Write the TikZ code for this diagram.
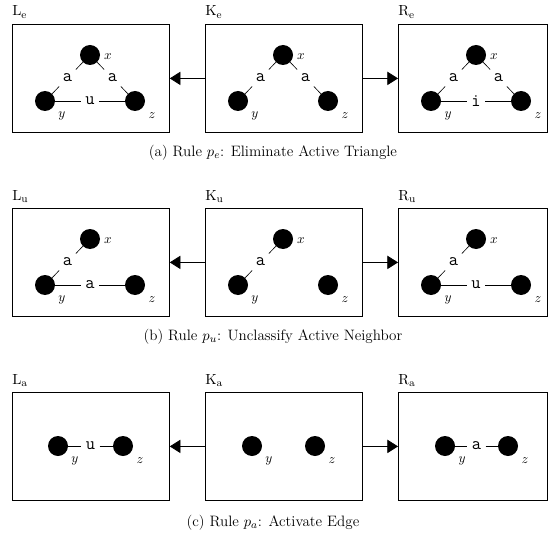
\documentclass[tikz,border=0pt]{standalone}
\usetikzlibrary{arrows.meta,calc}
\newcommand\vtxx[4]{%
  \node[vtx] (#1) at (#2,#3) {};
  \node[vname] (#1lab) at (#2+18,#3+2) {$#4$};}
\newcommand\vtxb[4]{%
  \node[vtx] (#1) at (#2,#3) {};
  \node[vname] (#1lab) at (#2+17,#3+15) {$#4$};}
\newcommand\edgelab[4]{%
  \node[elabel] (#1) at ($(#2)!0.5!(#3)$) {#4};
  \draw[edge] (#2) -- (#1) -- (#3);}
\newcommand\mkbox[4]{%
  \node[gbox] (#1) at (#2,#3) {};
  \node[boxname] (#1name) at ($(#1.north west)+(0,-8)$) {#4};}
\begin{document}
\begin{tikzpicture}[x=0.75pt,y=-0.75pt,
  gbox/.style={draw, line width=0.6pt, minimum width=117.75pt, minimum height=81pt, inner sep=0pt, anchor=north west},
  rbox/.style={gbox, minimum width=111.75pt},
  vtx/.style={circle, fill=black, minimum size=15pt, inner sep=0pt},
  vname/.style={font=\fontsize{10}{12}\selectfont, inner sep=0pt},
  elabel/.style={font=\fontsize{13.5}{16}\selectfont\ttfamily, inner sep=3.2pt},
  edge/.style={line width=0.5pt},
  boxname/.style={font=\fontsize{11.3}{13.5}\selectfont, anchor=base west, inner sep=0pt},
  rarrow/.style={line width=0.6pt, -{Triangle[length=8pt,width=10pt]}},
  capt/.style={font=\fontsize{11.3}{13.5}\selectfont, inner sep=0pt}]
\useasboundingbox (0,0) rectangle (548,552);

% ---------- row a ----------
\mkbox{Le}{12}{24}{$\mathrm{L_e}$}
\mkbox{Ke}{205}{24}{$\mathrm{K_e}$}
\node[rbox] (Re) at (398,24) {};
\node[boxname] (Rename) at ($(Re.north west)+(0,-8)$) {$\mathrm{R_e}$};
\vtxx{Lex}{90}{55}{x}
\vtxb{Ley}{45}{101}{y}
\vtxb{Lez}{135}{101}{z}
\edgelab{Lea1}{Ley}{Lex}{a}
\edgelab{Lea2}{Lez}{Lex}{a}
\edgelab{Leu}{Ley}{Lez}{u}
\vtxx{Kex}{283}{55}{x}
\vtxb{Key}{238}{101}{y}
\vtxb{Kez}{328}{101}{z}
\edgelab{Kea1}{Key}{Kex}{a}
\edgelab{Kea2}{Kez}{Kex}{a}
\vtxx{Rex}{476}{55}{x}
\vtxb{Rey}{431}{101}{y}
\vtxb{Rez}{521}{101}{z}
\edgelab{Rea1}{Rey}{Rex}{a}
\edgelab{Rea2}{Rez}{Rex}{a}
\edgelab{Rei}{Rey}{Rez}{i}
\draw[rarrow] (Ke.west) -- (Le.east);
\draw[rarrow] (Ke.east) -- (Re.west);
\node[capt] (capa) at (273,153) {(a) Rule $p_e$: Eliminate Active Triangle};

% ---------- row b ----------
\mkbox{Lu}{12}{208}{$\mathrm{L_u}$}
\mkbox{Ku}{205}{208}{$\mathrm{K_u}$}
\node[rbox] (Ru) at (398,208) {};
\node[boxname] (Runame) at ($(Ru.north west)+(0,-8)$) {$\mathrm{R_u}$};
\vtxx{Lux}{90}{239}{x}
\vtxb{Luy}{45}{285}{y}
\vtxb{Luz}{135}{285}{z}
\edgelab{Lua1}{Luy}{Lux}{a}
\edgelab{Lua2}{Luy}{Luz}{a}
\vtxx{Kux}{283}{239}{x}
\vtxb{Kuy}{238}{285}{y}
\vtxb{Kuz}{328}{285}{z}
\edgelab{Kua1}{Kuy}{Kux}{a}
\vtxx{Rux}{476}{239}{x}
\vtxb{Ruy}{431}{285}{y}
\vtxb{Ruz}{521}{285}{z}
\edgelab{Rua1}{Ruy}{Rux}{a}
\edgelab{Ruu}{Ruy}{Ruz}{u}
\draw[rarrow] (Ku.west) -- (Lu.east);
\draw[rarrow] (Ku.east) -- (Ru.west);
\node[capt] (capb) at (273,337) {(b) Rule $p_u$: Unclassify Active Neighbor};

% ---------- row c ----------
\mkbox{La}{12}{392}{$\mathrm{L_a}$}
\mkbox{Ka}{205}{392}{$\mathrm{K_a}$}
\node[rbox] (Ra) at (398,392) {};
\node[boxname] (Raname) at ($(Ra.north west)+(0,-8)$) {$\mathrm{R_a}$};
\vtxb{Lay}{58}{446}{y}
\vtxb{Laz}{123}{446}{z}
\edgelab{Lau}{Lay}{Laz}{u}
\vtxb{Kay}{252}{446}{y}
\vtxb{Kaz}{315}{446}{z}
\vtxb{Ray}{445}{446}{y}
\vtxb{Raz}{508}{446}{z}
\edgelab{Raa}{Ray}{Raz}{a}
\draw[rarrow] (Ka.west) -- (La.east);
\draw[rarrow] (Ka.east) -- (Ra.west);
\node[capt] (capc) at (273,523) {(c) Rule $p_a$: Activate Edge};
\end{tikzpicture}
\end{document}
